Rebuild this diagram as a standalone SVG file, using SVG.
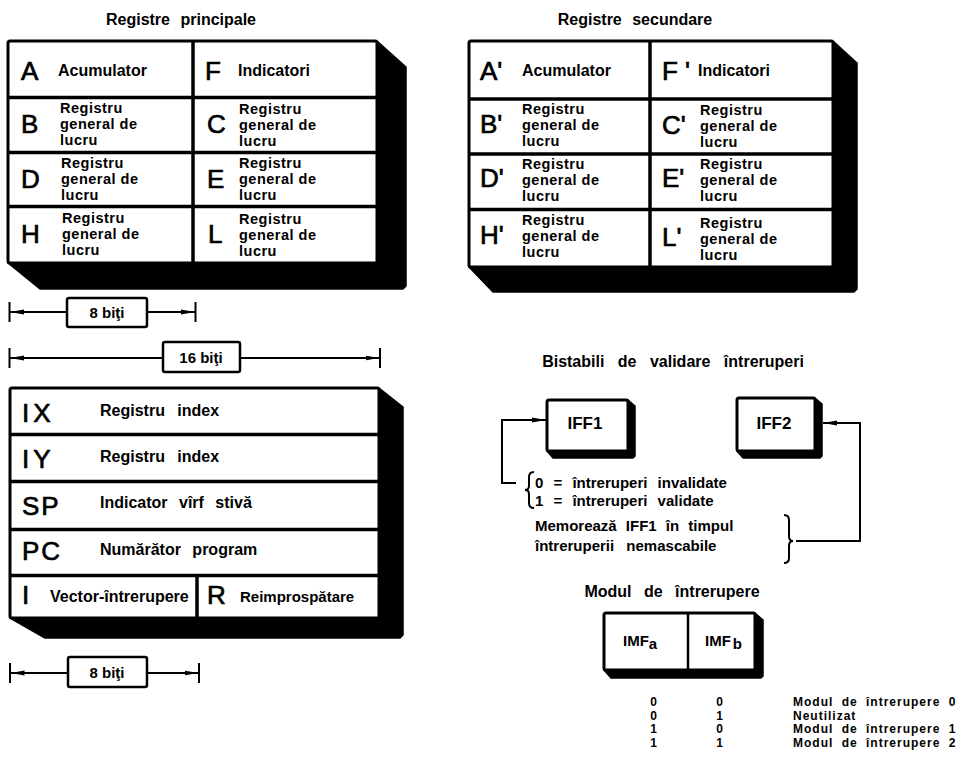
<svg xmlns="http://www.w3.org/2000/svg" width="973" height="761" viewBox="0 0 973 761">
<style>
.bg{fill:#fff}
.face{fill:#fff;stroke:#000;stroke-width:3;stroke-linejoin:round}
.sh{fill:#000;stroke:#000;stroke-width:1.5;stroke-linejoin:round}
.div{stroke:#000;stroke-width:3.5;fill:none}
.ln{stroke:#000;stroke-width:2;fill:none}
.t{font-family:"Liberation Sans",Arial,sans-serif;font-weight:bold;font-size:16px;fill:#000}
.c{font-family:"Liberation Sans",Arial,sans-serif;font-weight:bold;font-size:14.5px;letter-spacing:0.5px;fill:#000}
.big{font-family:"Liberation Sans",Arial,sans-serif;font-size:26px;fill:#000;stroke:#000;stroke-width:0.7}
.ttl{font-family:"Liberation Sans",Arial,sans-serif;font-weight:bold;font-size:16px;fill:#000;word-spacing:6px}
.sm{font-family:"Liberation Sans",Arial,sans-serif;font-weight:bold;font-size:15px;fill:#000}
.tb{font-family:"Liberation Sans",Arial,sans-serif;font-weight:bold;font-size:12px;fill:#000;letter-spacing:1px}
.ruler{stroke:#000;stroke-width:2;fill:none}
.box{fill:#fff;stroke:#000;stroke-width:2.5}
</style>
<defs>
<marker id="ah" markerUnits="userSpaceOnUse" markerWidth="14" markerHeight="8" refX="14" refY="4" orient="auto">
<path d="M0,1.6 L14,4 L0,6.4 z" fill="#000"/>
</marker>
</defs>
<rect class="bg" x="0" y="0" width="973" height="761"/>

<!-- Titles -->
<text class="ttl" x="181" y="25" text-anchor="middle">Registre principale</text>
<text class="ttl" x="635" y="25" text-anchor="middle">Registre secundare</text>
<text class="ttl" x="673" y="367" text-anchor="middle" style="word-spacing:9px">Bistabili de validare întreruperi</text>
<text class="ttl" x="672" y="597" text-anchor="middle" style="word-spacing:8px">Modul de întrerupere</text>

<!-- Block: main registers -->
<g id="block-principale">
<polygon class="sh" points="377,41 406,67 406,286 403,289 40,289 8,263"/>
<rect class="face" x="8" y="41" width="369" height="222" rx="2"/>
<line class="div" x1="193" y1="41" x2="193" y2="263"/>
<line class="div" x1="8" y1="97.5" x2="377" y2="97.5"/>
<line class="div" x1="8" y1="152.5" x2="377" y2="152.5"/>
<line class="div" x1="8" y1="206.5" x2="377" y2="206.5"/>
</g>
<g id="reg-A"><text class="big" x="21" y="80">A</text><text class="t" x="58" y="76">Acumulator</text></g>
<g id="reg-F"><text class="big" x="205" y="80">F</text><text class="t" x="238" y="76">Indicatori</text></g>
<g id="reg-B"><text class="big" x="21" y="133">B</text><text class="c" x="60" y="113">Registru</text><text class="c" x="60" y="129">general de</text><text class="c" x="60" y="145">lucru</text></g>
<g id="reg-C"><text class="big" x="207" y="133">C</text><text class="c" x="239" y="114">Registru</text><text class="c" x="239" y="130">general de</text><text class="c" x="239" y="146">lucru</text></g>
<g id="reg-D"><text class="big" x="21" y="188">D</text><text class="c" x="61" y="168">Registru</text><text class="c" x="61" y="184">general de</text><text class="c" x="61" y="200">lucru</text></g>
<g id="reg-E"><text class="big" x="207" y="188">E</text><text class="c" x="239" y="168">Registru</text><text class="c" x="239" y="184">general de</text><text class="c" x="239" y="200">lucru</text></g>
<g id="reg-H"><text class="big" x="21" y="243">H</text><text class="c" x="62" y="223">Registru</text><text class="c" x="62" y="239">general de</text><text class="c" x="62" y="255">lucru</text></g>
<g id="reg-L"><text class="big" x="208" y="243">L</text><text class="c" x="239" y="224">Registru</text><text class="c" x="239" y="240">general de</text><text class="c" x="239" y="256">lucru</text></g>

<!-- Block: secondary registers -->
<g id="block-secundare">
<polygon class="sh" points="833,41 857,63 857,289 854,292 493,292 469,267"/>
<rect class="face" x="469" y="41" width="364" height="226" rx="2"/>
<line class="div" x1="650" y1="41" x2="650" y2="267"/>
<line class="div" x1="469" y1="99" x2="833" y2="99"/>
<line class="div" x1="469" y1="154" x2="833" y2="154"/>
<line class="div" x1="469" y1="209.5" x2="833" y2="209.5"/>
</g>
<g id="reg-A2"><text class="big" x="480" y="80">A'</text><text class="t" x="522" y="76">Acumulator</text></g>
<g id="reg-F2"><text class="big" x="662" y="80">F '</text><text class="t" x="698" y="76">Indicatori</text></g>
<g id="reg-B2"><text class="big" x="480" y="133">B'</text><text class="c" x="522" y="114">Registru</text><text class="c" x="522" y="130">general de</text><text class="c" x="522" y="146">lucru</text></g>
<g id="reg-C2"><text class="big" x="662" y="134">C'</text><text class="c" x="700" y="115">Registru</text><text class="c" x="700" y="131">general de</text><text class="c" x="700" y="147">lucru</text></g>
<g id="reg-D2"><text class="big" x="480" y="187">D'</text><text class="c" x="522" y="169">Registru</text><text class="c" x="522" y="185">general de</text><text class="c" x="522" y="201">lucru</text></g>
<g id="reg-E2"><text class="big" x="662" y="187">E'</text><text class="c" x="700" y="169">Registru</text><text class="c" x="700" y="185">general de</text><text class="c" x="700" y="201">lucru</text></g>
<g id="reg-H2"><text class="big" x="480" y="244">H'</text><text class="c" x="522" y="225">Registru</text><text class="c" x="522" y="241">general de</text><text class="c" x="522" y="257">lucru</text></g>
<g id="reg-L2"><text class="big" x="662" y="246">L'</text><text class="c" x="700" y="228">Registru</text><text class="c" x="700" y="244">general de</text><text class="c" x="700" y="260">lucru</text></g>

<!-- Block: special registers -->
<g id="block-speciale">
<polygon class="sh" points="379,388 403,407 403,635 400,638 45,638 10,618"/>
<rect class="face" x="10" y="388" width="369" height="230" rx="2"/>
<line class="div" x1="10" y1="434.5" x2="379" y2="434.5"/>
<line class="div" x1="10" y1="481.5" x2="379" y2="481.5"/>
<line class="div" x1="10" y1="529.5" x2="379" y2="529.5"/>
<line class="div" x1="10" y1="575.5" x2="379" y2="575.5"/>
<line class="div" x1="197" y1="575.5" x2="197" y2="618"/>
</g>
<g id="reg-IX"><text class="big" x="22" y="422" style="letter-spacing:4px">IX</text><text class="t" x="100" y="416" style="word-spacing:8px">Registru index</text></g>
<g id="reg-IY"><text class="big" x="22" y="468" style="letter-spacing:4px">IY</text><text class="t" x="100" y="462" style="word-spacing:8px">Registru index</text></g>
<g id="reg-SP"><text class="big" x="22" y="515" style="letter-spacing:2px">SP</text><text class="t" x="100" y="508" style="word-spacing:7px">Indicator vîrf stivă</text></g>
<g id="reg-PC"><text class="big" x="22" y="560" style="letter-spacing:2px">PC</text><text class="t" x="100" y="555" style="word-spacing:7px">Numărător program</text></g>
<g id="reg-I"><text class="big" x="22" y="604">I</text><text class="t" x="50" y="602">Vector-întrerupere</text></g>
<g id="reg-R"><text class="big" x="207" y="604">R</text><text class="t" x="240" y="602" style="font-size:15px">Reimprospătare</text></g>

<!-- Rulers -->
<g id="ruler-8a">
<line class="ruler" x1="9.5" y1="302" x2="9.5" y2="322"/>
<line class="ruler" x1="195.5" y1="302" x2="195.5" y2="322"/>
<line class="ruler" x1="67" y1="312" x2="10" y2="312" marker-end="url(#ah)"/>
<line class="ruler" x1="147" y1="312" x2="195" y2="312" marker-end="url(#ah)"/>
<rect class="box" x="67" y="298" width="80" height="29" rx="2"/>
<text class="sm" x="107" y="318" text-anchor="middle">8 biţi</text>
</g>
<g id="ruler-16">
<line class="ruler" x1="9.5" y1="348" x2="9.5" y2="368"/>
<line class="ruler" x1="380" y1="348" x2="380" y2="368"/>
<line class="ruler" x1="163" y1="358" x2="10" y2="358" marker-end="url(#ah)"/>
<line class="ruler" x1="240" y1="358" x2="379.5" y2="358" marker-end="url(#ah)"/>
<rect class="box" x="163" y="342" width="77" height="30" rx="2"/>
<text class="sm" x="201" y="363" text-anchor="middle">16 biţi</text>
</g>
<g id="ruler-8b">
<line class="ruler" x1="10" y1="663" x2="10" y2="683"/>
<line class="ruler" x1="199" y1="663" x2="199" y2="683"/>
<line class="ruler" x1="68" y1="673" x2="10.5" y2="673" marker-end="url(#ah)"/>
<line class="ruler" x1="147" y1="673" x2="198.5" y2="673" marker-end="url(#ah)"/>
<rect class="box" x="68" y="657" width="79" height="30" rx="2"/>
<text class="sm" x="107" y="678" text-anchor="middle">8 biţi</text>
</g>

<!-- IFF flip-flops -->
<g id="IFF1">
<polygon class="sh" points="628,400 635,406 635,456 633,458 553,458 547,451"/>
<rect class="face" x="547" y="400" width="81" height="51" rx="2"/>
<text class="t" x="585" y="429" text-anchor="middle" style="font-size:17px">IFF1</text>
</g>
<g id="IFF2">
<polygon class="sh" points="815,398 822,404 822,456 820,458 743,458 737,451"/>
<rect class="face" x="737" y="398" width="78" height="53" rx="2"/>
<text class="t" x="774" y="429" text-anchor="middle" style="font-size:17px">IFF2</text>
</g>
<g id="IFF1-note">
<path class="ln" d="M534,472 Q529,472 529,477 L529,486 Q529,490 525,490 Q529,490 529,494 L529,503 Q529,508 534,508"/>
<text class="sm" x="535" y="488" style="word-spacing:6px">0 = întreruperi invalidate</text>
<text class="sm" x="535" y="506" style="word-spacing:6px">1 = întreruperi validate</text>
</g>
<g id="IFF2-note">
<text class="sm" x="535" y="531" style="word-spacing:5px">Memorează IFF1 în timpul</text>
<text class="sm" x="535" y="551" style="word-spacing:8px">întreruperii nemascabile</text>
<path class="ln" d="M784,515 Q789,515 789,520 L789,536 Q789,541 793,541 Q789,541 789,546 L789,558 Q789,563 784,563"/>
</g>

<!-- IMF -->
<g id="IMF">
<polygon class="sh" points="755,613 763,620 763,676 761,678 611,678 604,670"/>
<rect class="face" x="604" y="613" width="151" height="57" rx="2"/>
<line class="div" x1="688" y1="613" x2="688" y2="676" style="stroke-width:2.5"/>
<text class="sm" x="623" y="646">IMF<tspan dy="3">a</tspan></text>
<text class="sm" x="705" y="646">IMF<tspan dx="2" dy="3">b</tspan></text>
</g>
<g id="IMF-table">
<text class="tb" x="654" y="706" text-anchor="middle">0</text><text class="tb" x="720" y="706" text-anchor="middle">0</text><text class="tb" x="793" y="706" style="word-spacing:4px">Modul de întrerupere 0</text>
<text class="tb" x="654" y="719.5" text-anchor="middle">0</text><text class="tb" x="720" y="719.5" text-anchor="middle">1</text><text class="tb" x="793" y="719.5">Neutilizat</text>
<text class="tb" x="654" y="733" text-anchor="middle">1</text><text class="tb" x="720" y="733" text-anchor="middle">0</text><text class="tb" x="793" y="733" style="word-spacing:4px">Modul de întrerupere 1</text>
<text class="tb" x="654" y="746.5" text-anchor="middle">1</text><text class="tb" x="720" y="746.5" text-anchor="middle">1</text><text class="tb" x="793" y="746.5" style="word-spacing:4px">Modul de întrerupere 2</text>
</g>

<!-- Connectors -->
<g id="connectors">
<polyline class="ln" points="516,483 502,483 502,420 546,420" marker-end="url(#ah)"/>
<polyline class="ln" points="796,541 860,541 860,423 823,423" marker-end="url(#ah)"/>
</g>
</svg>
